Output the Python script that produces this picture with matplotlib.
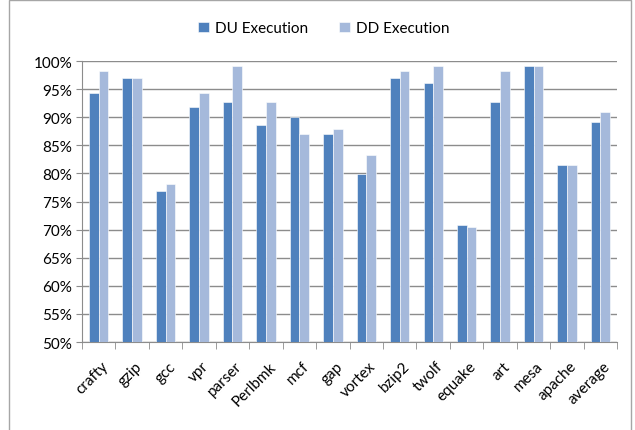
import matplotlib
matplotlib.use("agg")
import matplotlib.pyplot as plt
import numpy as np
from matplotlib.patches import Rectangle

plt.rcParams["font.family"] = ["Lato", "DejaVu Sans"]

benchmarks = ["crafty", "gzip", "gcc", "vpr", "parser", "Perlbmk", "mcf", "gap",
              "vortex", "bzip2", "twolf", "equake", "art", "mesa", "apache", "average"]
du_exec = [94.3, 97.0, 76.9, 91.9, 92.8, 88.6, 90.0, 87.0,
           79.9, 97.0, 96.1, 70.9, 92.8, 99.2, 81.5, 89.1]
dd_exec = [98.2, 97.0, 78.2, 94.3, 99.2, 92.8, 87.0, 87.9,
           83.3, 98.2, 99.2, 70.5, 98.2, 99.2, 81.5, 90.9]
yticks = list(range(50, 101, 5))

fig = plt.figure(figsize=(6.35, 4.31), dpi=100)
ax = fig.add_axes([0.129, 0.204, 0.843, 0.652])

x = np.arange(len(benchmarks))
w = 0.29
ax.bar(x - w / 2, du_exec, w, bottom=0, color="#4F81BD", edgecolor="white",
       linewidth=0.4, label="DU Execution", zorder=3)
ax.bar(x + w / 2, dd_exec, w, bottom=0, color="#A5B9DB", edgecolor="white",
       linewidth=0.4, label="DD Execution", zorder=3)

ax.set_ylim(50, 100)
ax.set_xlim(-0.5, len(benchmarks) - 0.5)
ax.set_yticks(yticks)
ax.set_yticklabels([f"{v}%" for v in yticks], fontsize=11)
ax.yaxis.grid(True, color="#8C8C8C", linewidth=1.0, zorder=0)
ax.tick_params(axis="y", length=4, color="#8C8C8C", pad=3)

ax.set_xticks(x + 0.08)
ax.set_xticklabels(benchmarks, rotation=45, ha="right", rotation_mode="anchor", fontsize=11)
ax.tick_params(axis="x", length=0, pad=12)
ax.set_xticks(np.arange(-0.5, len(benchmarks)), minor=True)
ax.tick_params(axis="x", which="minor", length=5, color="#8C8C8C")

for s in ["top", "right"]:
    ax.spines[s].set_visible(False)
for s in ["left", "bottom"]:
    ax.spines[s].set_color("#8C8C8C")

fig.legend(loc="upper center", bbox_to_anchor=(0.51, 0.98), ncol=2, frameon=False,
           fontsize=11, handlelength=0.7, handleheight=0.7, columnspacing=2.0,
           handletextpad=0.4)

# chart border (bottom edge runs off the image, as in the reference)
fig.patches.append(Rectangle((9 / 635, -0.05), 622 / 635, 1.05 - 1 / 431,
                             transform=fig.transFigure, fill=False,
                             edgecolor="#A6A6A6", linewidth=1))

fig.savefig("out.png", dpi=100)
